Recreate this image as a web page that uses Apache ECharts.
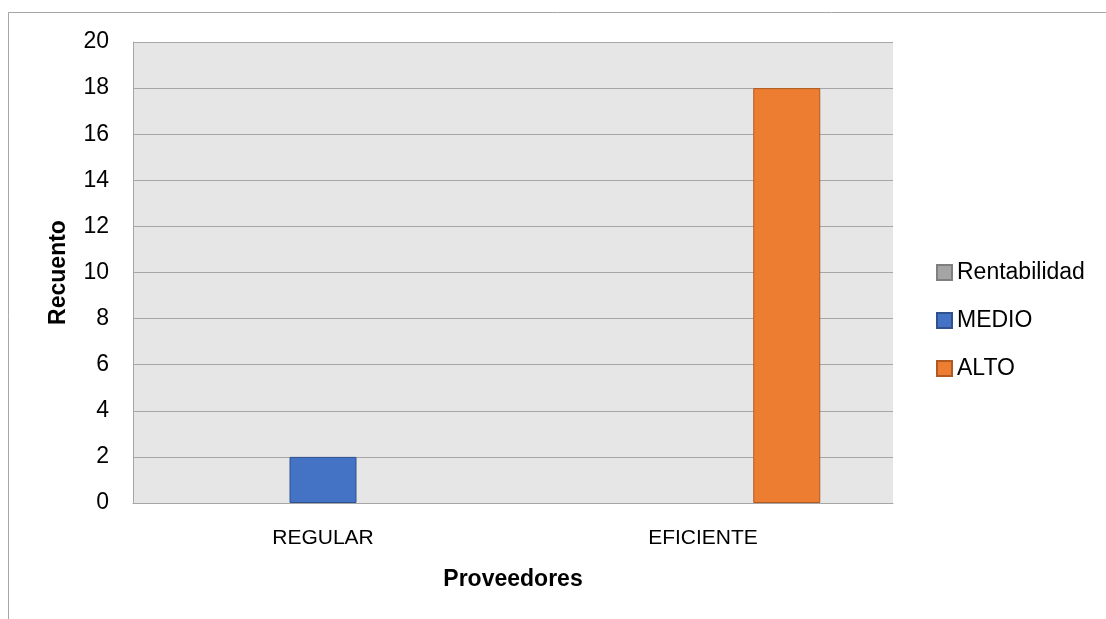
<!DOCTYPE html>
<html>
<head>
<meta charset="utf-8">
<script src="https://cdn.jsdelivr.net/npm/echarts@6/dist/echarts.min.js"></script>
<style>
html, body { margin: 0; padding: 0; background: #fff; }
#grafico { width: 1106px; height: 619px; }
</style>
</head>
<body>
<div id="grafico"></div>
<script>
var categorias = ["REGULAR", "EFICIENTE"];
var rentabilidad = [null, null];
var medio = [2, null];
var alto = [null, 18];
var fuente = "'Liberation Sans', 'Open Sans', sans-serif";

function grafico(){
    var dom = document.getElementById("grafico");
    var myChart = echarts.init(dom);
    var option = {
        animation: false,
        textStyle: { fontFamily: fuente },
        graphic: [
            { type: "line", shape: { x1: 8.5, y1: 12.5, x2: 1106, y2: 12.5 }, style: { stroke: "#a6a6a6", lineWidth: 1 } },
            { type: "line", shape: { x1: 8.5, y1: 12.5, x2: 8.5, y2: 619 }, style: { stroke: "#a6a6a6", lineWidth: 1 } }
        ],
        grid: {
            left: 133, right: 213, top: 42, bottom: 116,
            show: true, backgroundColor: "#e7e6e6", borderWidth: 0
        },
        legend: {
            orient: "vertical",
            left: 931,
            top: 256,
            icon: "rect",
            itemWidth: 15,
            itemHeight: 15,
            itemGap: 25,
            textStyle: { fontSize: 23, color: "#000", fontFamily: fuente },
            data: ["Rentabilidad", "MEDIO", "ALTO"]
        },
        xAxis: {
            type: "category",
            data: categorias,
            name: "Proveedores",
            nameLocation: "middle",
            nameGap: 65,
            nameTextStyle: { fontSize: 23, fontWeight: "bold", color: "#000" },
            axisLine: { lineStyle: { color: "#a6a6a6" } },
            axisTick: { show: false },
            axisLabel: { fontSize: 21, color: "#000", margin: 25 }
        },
        yAxis: {
            type: "value",
            min: 0, max: 20, interval: 2,
            name: "Recuento",
            nameLocation: "middle",
            nameGap: 63,
            nameTextStyle: { fontSize: 23, fontWeight: "bold", color: "#000" },
            axisLine: { show: true, lineStyle: { color: "#a6a6a6" } },
            axisTick: { show: false },
            axisLabel: { fontSize: 23, color: "#000", margin: 24 },
            splitLine: { lineStyle: { color: "#a6a6a6", width: 1 } }
        },
        series: [
            { name: "Rentabilidad", type: "bar", data: rentabilidad, barWidth: 67, barGap: "25%",
              itemStyle: { color: "#a5a5a5", borderColor: "#7f7f7f", borderWidth: 1 } },
            { name: "MEDIO", type: "bar", data: medio, barWidth: 67, barGap: "25%",
              itemStyle: { color: "#4472c4", borderColor: "#2f528f", borderWidth: 1 } },
            { name: "ALTO", type: "bar", data: alto, barWidth: 67, barGap: "25%",
              itemStyle: { color: "#ed7d31", borderColor: "#ae5a21", borderWidth: 1 } }
        ]
    };
    myChart.setOption(option, true);
}
grafico();
</script>
</body>
</html>
